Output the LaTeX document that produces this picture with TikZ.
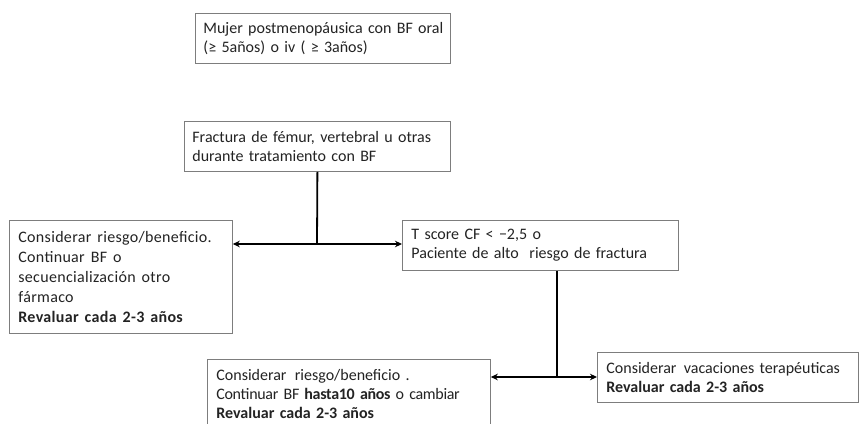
\documentclass[tikz,border=0pt]{standalone}
\usepackage{fontspec}
\setmainfont{Carlito}
\usetikzlibrary{arrows.meta}
\definecolor{boxgray}{RGB}{125,125,125}
\definecolor{txt}{RGB}{35,35,35}
\newcommand\mb[1]{\mbox{#1}}
\newcommand\widesp{\spaceskip=6pt plus 1pt\relax}
\tikzset{
  box/.style={draw=boxgray, line width=0.8pt, anchor=north west, inner xsep=8pt, inner ysep=0pt,
    align=left, text=txt, font=\fontsize{16}{19}\selectfont},
  conn/.style={line width=1.8pt, black},
  arr/.style={conn, {Stealth[length=7pt,width=6.5pt]}-{Stealth[length=7pt,width=6.5pt]}}
}
\begin{document}
\begin{tikzpicture}[x=1pt,y=-1pt]
\useasboundingbox (0,0) rectangle (859,423);
\clip (0,0) rectangle (859,423);
\fill[white] (0,0) rectangle (859,423);
\node[box, minimum width=255, minimum height=50, text width=239pt] (b1) at (195,13)
  {\mb{Mujer postmenopáusica con BF oral}\\\mb{(≥ 5años) o iv ( ≥ 3años)}};
\node[box, minimum width=266, minimum height=50, text width=250pt] (b2) at (184,121)
  {\mb{Fractura de fémur, vertebral u otras}\\\mb{durante tratamiento con BF}};
\node[box, minimum width=223, minimum height=113, text width=205pt, inner xsep=9pt,
  font=\fontsize{16}{20}\selectfont\addfontfeature{LetterSpace=2}] (b3) at (9,220)
  {\widesp\mb{Considerar riesgo/beneficio.}\\\mb{Continuar BF o}\\\mb{secuencialización otro}\\\mb{fármaco}\\\mb{\textbf{Revaluar cada 2-3 años}}};
\node[box, minimum width=276, minimum height=50, text width=258pt, inner xsep=9pt] (b4) at (402,220)
  {\mb{T score CF < −2,5 o}\\\mb{Paciente de alto\ \ riesgo de fractura}};
\node[box, minimum width=283, minimum height=70, text width=265pt, inner xsep=9pt] (b5) at (207,359)
  {\mb{Considerar\hspace{3pt} riesgo/beneficio .}\\\mb{\addfontfeature{LetterSpace=-2}Continuar BF \textbf{\addfontfeature{LetterSpace=-2}hasta10 años} o cambiar}\\\mb{\textbf{Revaluar cada 2-3 años}}};
\node[box, minimum width=261, minimum height=50, text width=243pt] (b6) at (597,352)
  {\mb{Considerar\hspace{2pt} vacaciones terapéuticas}\\\mb{\textbf{Revaluar cada 2-3 años}}};
\coordinate (j1) at (317,244);
\coordinate (j2) at (557,377);
\draw[conn] (b2.south) -- (j1);
\draw[arr] (j1 -| b3.east) -- (j1 -| b4.west);
\draw[conn] (j2 |- b4.south) -- (j2);
\draw[arr] (j2 -| b5.east) -- (j2 -| b6.west);
\end{tikzpicture}
\end{document}
